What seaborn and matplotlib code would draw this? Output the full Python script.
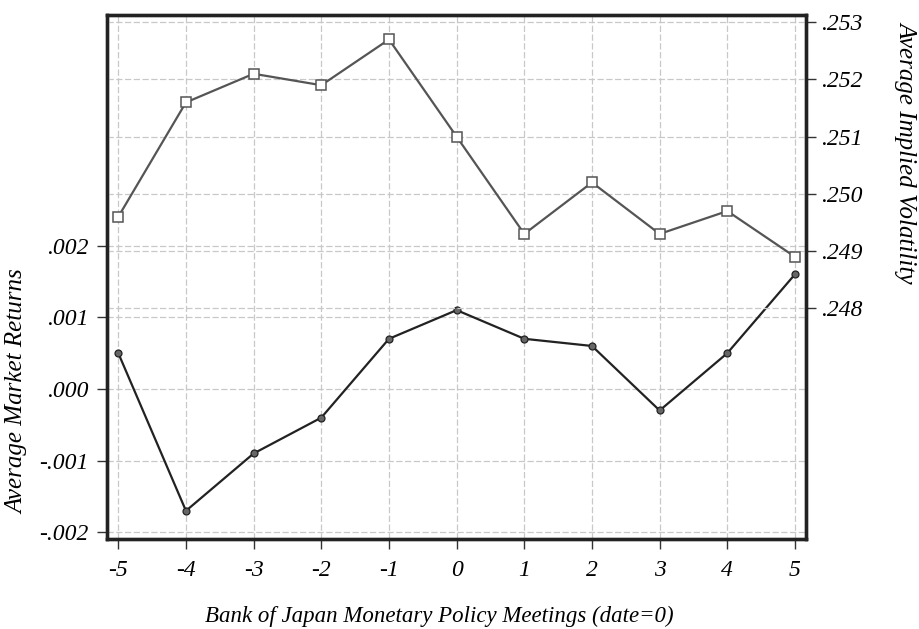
import matplotlib

matplotlib.use("Agg")
import matplotlib.pyplot as plt
import pandas as pd
import seaborn as sns

# Event days around Bank of Japan meetings
days = [-5, -4, -3, -2, -1, 0, 1, 2, 3, 4, 5]
market_returns = [0.0005, -0.0017, -0.0009, -0.0004, 0.0007, 0.0011,
                  0.0007, 0.0006, -0.0003, 0.0005, 0.0016]
implied_vol = [0.2496, 0.2516, 0.2521, 0.2519, 0.2527, 0.2510,
               0.2493, 0.2502, 0.2493, 0.2497, 0.2489]

left_ticks = [-0.002, -0.001, 0.0, 0.001, 0.002]
left_labels = ["-.002", "-.001", ".000", ".001", ".002"]
right_ticks = [0.248, 0.249, 0.250, 0.251, 0.252, 0.253]
right_labels = [".248", ".249", ".250", ".251", ".252", ".253"]
x_labels = ["-5", "-4", "-3", "-2", "-1", "0", "1", "2", "3", "4", "5"]

df = pd.DataFrame({"day": days, "ret": market_returns, "vol": implied_vol})

sns.set_style("white")
plt.rcParams["font.family"] = ["Liberation Serif", "DejaVu Serif"]
plt.rcParams["font.style"] = "italic"
plt.rcParams["text.color"] = "black"
plt.rcParams["axes.labelcolor"] = "black"
plt.rcParams["xtick.color"] = "black"
plt.rcParams["ytick.color"] = "black"

fig = plt.figure(figsize=(9.2, 6.29), dpi=100)
ax = fig.add_axes([0.1163, 0.1431, 0.7598, 0.8331])
ax2 = ax.twinx()

grid_kw = dict(color="#c8c8c8", linestyle=(0, (5, 2)), linewidth=0.9)

# Market returns on the left axis
sns.lineplot(
    data=df, x="day", y="ret", ax=ax,
    color="#222222", linewidth=1.6,
    marker="o", markersize=5, markerfacecolor="#666666",
    markeredgecolor="#222222", markeredgewidth=0.9, zorder=3,
)

# Implied volatility on the right axis
sns.lineplot(
    data=df, x="day", y="vol", ax=ax2,
    color="#555555", linewidth=1.6,
    marker="s", markersize=6.5, markerfacecolor="white",
    markeredgecolor="#555555", markeredgewidth=1.1, zorder=3,
)

ax.set_xlim(-5.167, 5.163)
ax.set_ylim(-0.002093, 0.005218)
ax2.set_ylim(0.243967, 0.253128)

ax.set_xticks(days)
ax.set_xticklabels(x_labels)
ax.set_yticks(left_ticks)
ax.set_yticklabels(left_labels)
ax2.set_yticks(right_ticks)
ax2.set_yticklabels(right_labels)

ax.grid(True, **grid_kw)
ax2.grid(True, axis="y", **grid_kw)
ax.set_axisbelow(True)
ax2.set_axisbelow(True)

ax.tick_params(axis="both", which="major", direction="out", length=7,
               width=1.0, color="#333333", labelsize=17, pad=6,
               left=True, bottom=True)
ax.tick_params(axis="x", pad=8)
ax2.tick_params(axis="y", direction="out", length=7, width=1.0,
                color="#333333", labelsize=17, pad=4, right=True)

for a in (ax, ax2):
    for s in a.spines.values():
        s.set_linewidth(2.4)
        s.set_color("#222222")

ax.set_xlabel("Bank of Japan Monetary Policy Meetings (date=0)", fontsize=16.5)
ax.set_ylabel("Average Market Returns", fontsize=18)
ax2.set_ylabel("Average Implied Volatility", fontsize=18, rotation=270)
ax.xaxis.set_label_coords(0.476, -0.128)
ax.yaxis.set_label_coords(-0.113, 0.282)
ax2.yaxis.set_label_coords(1.159, 0.739)

fig.savefig("out.png", dpi=100)
